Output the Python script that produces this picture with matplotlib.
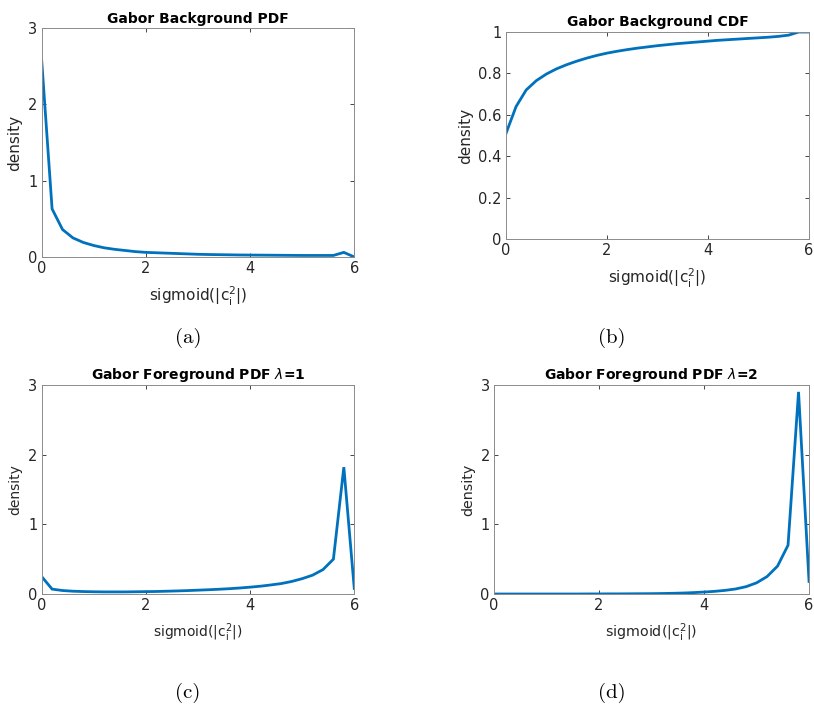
import numpy as np
import matplotlib
matplotlib.use("Agg")
import matplotlib.pyplot as plt

plt.rcParams['mathtext.fontset'] = 'dejavusans'

# sampled sigmoid(|c_i^2|) grid, step 0.2
x = np.round(np.arange(0, 6.01, 0.2), 1)

bg_pdf = [2.58, 0.63, 0.36, 0.25, 0.19, 0.15, 0.12, 0.10, 0.085, 0.07,
          0.06, 0.055, 0.05, 0.045, 0.04, 0.035, 0.032, 0.03, 0.028, 0.026,
          0.025, 0.024, 0.023, 0.022, 0.021, 0.02, 0.02, 0.02, 0.02, 0.06, 0.0]
bg_cdf = [0.51, 0.64, 0.72, 0.765, 0.797, 0.822, 0.842, 0.859, 0.874, 0.887,
          0.898, 0.907, 0.915, 0.922, 0.928, 0.934, 0.939, 0.944, 0.948, 0.952,
          0.956, 0.960, 0.963, 0.966, 0.969, 0.972, 0.975, 0.979, 0.985, 1.0, 1.0]
fg_pdf_l1 = [0.25, 0.07, 0.05, 0.04, 0.035, 0.032, 0.03, 0.03, 0.03, 0.032,
             0.034, 0.036, 0.04, 0.044, 0.049, 0.055, 0.061, 0.068, 0.076, 0.086,
             0.098, 0.112, 0.13, 0.15, 0.18, 0.22, 0.27, 0.35, 0.5, 1.82, 0.08]
fg_pdf_l2 = [0.0, 0.0, 0.0, 0.0, 0.0, 0.0, 0.0, 0.0, 0.0, 0.001,
             0.001, 0.002, 0.002, 0.003, 0.004, 0.005, 0.007, 0.01, 0.014, 0.02,
             0.028, 0.038, 0.052, 0.072, 0.105, 0.16, 0.25, 0.4, 0.7, 2.9, 0.18]

xlabel = r'sigmoid($\mathregular{|c_i^2|}$)'
panels = [
    # data, title, yticks, ylim, ticklabel size, label size, rect, caption
    (bg_pdf, 'Gabor Background PDF', [0, 1, 2, 3], (0, 3), 10.5, 11,
     [0.0512, 0.635, 0.384, 0.325], '(a)'),
    (bg_cdf, 'Gabor Background CDF', [0, 0.2, 0.4, 0.6, 0.8, 1], (0, 1), 10.5, 11,
     [0.6216, 0.6605, 0.372, 0.294], '(b)'),
    (fg_pdf_l1, r'Gabor Foreground PDF $\mathit{\lambda}$=1', [0, 1, 2, 3], (0, 3), 10.5, 10,
     [0.0512, 0.15625, 0.384, 0.297], '(c)'),
    (fg_pdf_l2, r'Gabor Foreground PDF $\mathit{\lambda}$=2', [0, 1, 2, 3], (0, 3), 10.5, 10.3,
     [0.6069, 0.15625, 0.387, 0.297], '(d)'),
]
captions_xy = {'(a)': (188, 338), '(b)': (612, 338), '(c)': (188, 693), '(d)': (612, 693)}

fig = plt.figure(figsize=(8.14, 7.04), dpi=100)
for data, title, yticks, ylim, tsize, lsize, rect, cap in panels:
    ax = fig.add_axes(rect)
    ax.plot(x, data, color='#0072BD', lw=2.0, solid_joinstyle='miter')
    ax.set_xlim(0, 6)
    ax.set_ylim(*ylim)
    ax.set_xticks([0, 2, 4, 6])
    ax.set_yticks(yticks)
    ax.set_yticklabels([f'{t:g}' for t in yticks])
    ax.tick_params(direction='in', top=True, right=True, length=3,
                   width=0.6, color='#262626', labelsize=tsize,
                   labelcolor='#262626', pad=3)
    for sp in ax.spines.values():
        sp.set_color('#8c8c8c')
        sp.set_linewidth(0.7)
    ax.set_title(title, fontsize=10, fontweight='bold', pad=4)
    ax.set_xlabel(xlabel, fontsize=lsize, color='#262626', labelpad=6)
    ax.set_ylabel('density', fontsize=lsize, color='#262626', labelpad=4)
    cx, cy = captions_xy[cap]
    fig.text(cx / 814, 1 - cy / 704, cap, family='cmr10', fontsize=15,
             ha='center', va='center')

fig.savefig('out.png', dpi=100)
